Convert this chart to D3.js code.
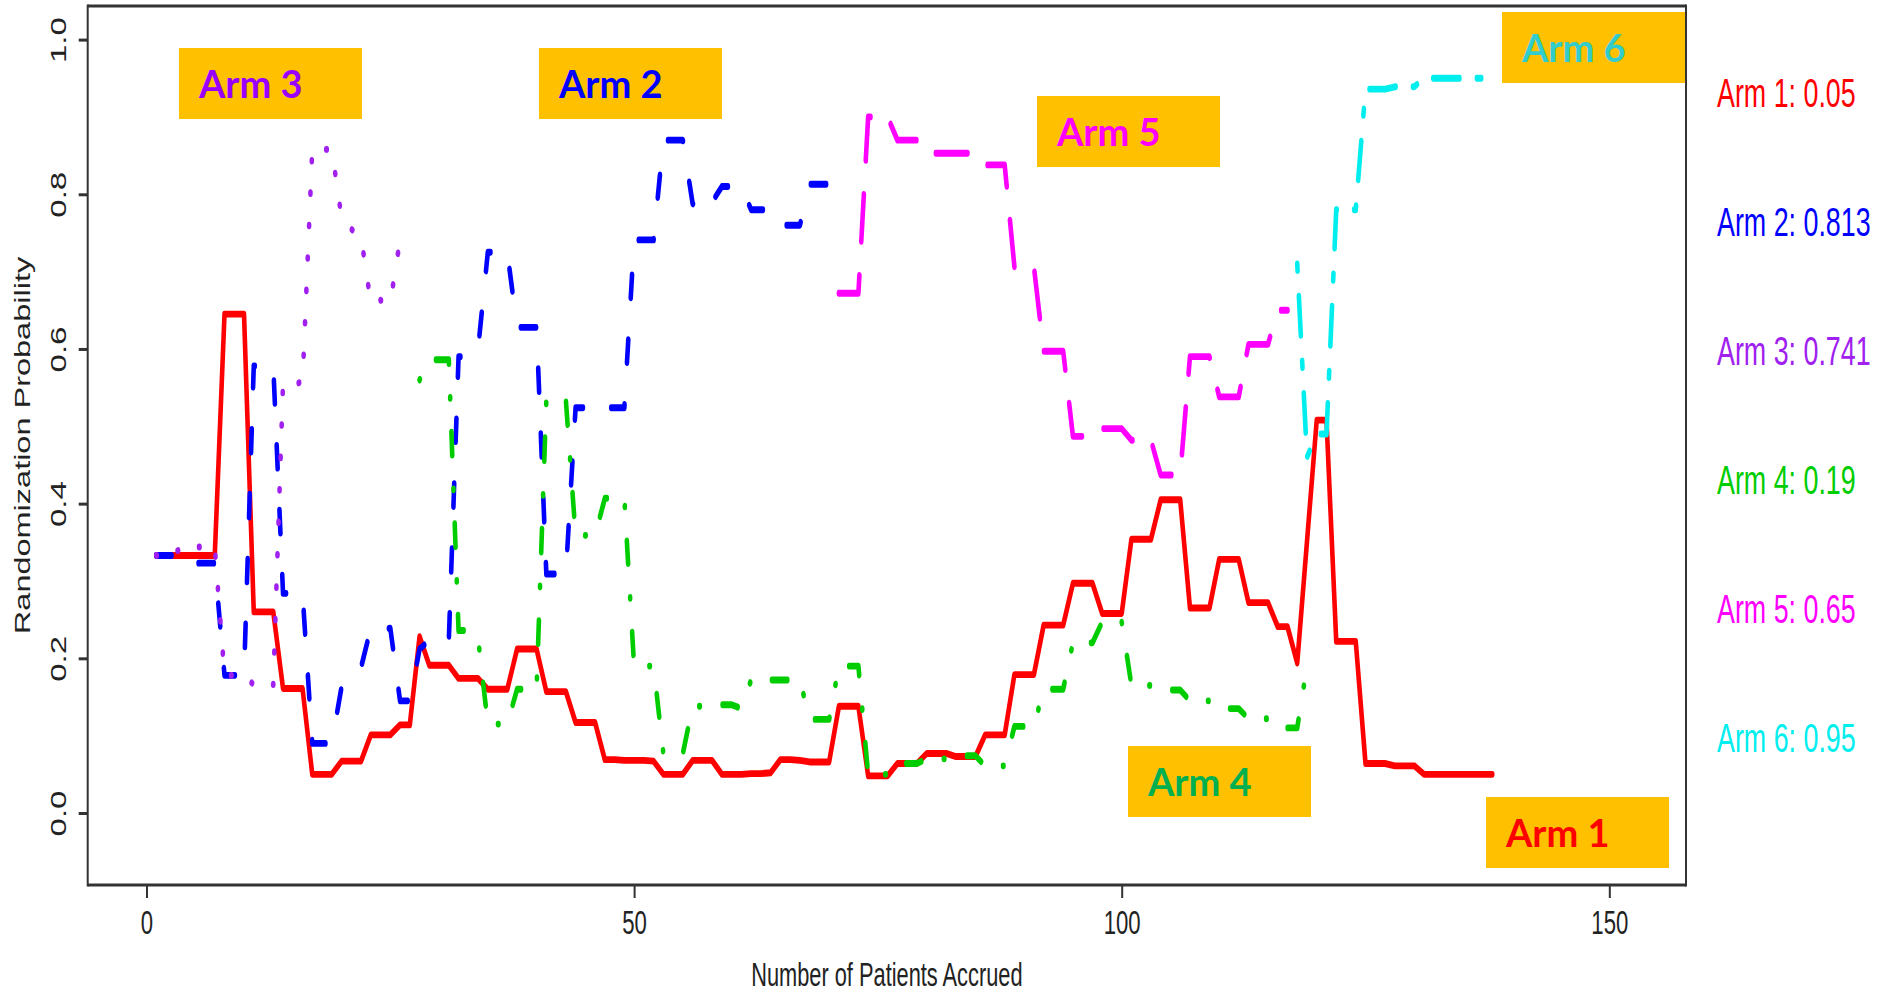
<!DOCTYPE html>
<html>
<head>
<meta charset="utf-8">
<script src="https://cdn.jsdelivr.net/npm/d3@7"></script>
<style>
  body { margin: 0; background: #ffffff; }
  svg { display: block; }
</style>
</head>
<body>
<svg id="chart" width="1883" height="996"></svg>
<script>
// Randomization probability of each arm, one value per accrued patient,
// starting at the patient number given by armNStart.
const arm1Start = 1;
const arm1 = [
  0.333, 0.333, 0.333, 0.333, 0.333, 0.333, 0.333,
  0.645, 0.645, 0.645,
  0.26, 0.26, 0.26,
  0.161, 0.161, 0.161,
  0.05, 0.05, 0.05,
  0.067, 0.067, 0.067,
  0.101, 0.101, 0.101,
  0.114, 0.114,
  0.228,
  0.191, 0.191, 0.191,
  0.174, 0.174, 0.174,
  0.16, 0.16, 0.16,
  0.212, 0.212, 0.212,
  0.157, 0.157, 0.157,
  0.117, 0.117, 0.117,
  0.069, 0.069, 0.068, 0.068, 0.068, 0.067,
  0.05, 0.05, 0.05,
  0.068, 0.068, 0.068,
  0.05, 0.05, 0.05, 0.051, 0.051, 0.052,
  0.069, 0.069, 0.068, 0.066, 0.066, 0.066,
  0.138, 0.138, 0.138,
  0.048, 0.048, 0.048,
  0.064, 0.064, 0.064,
  0.077, 0.077, 0.077,
  0.073, 0.073, 0.073,
  0.101, 0.101, 0.101,
  0.179, 0.179, 0.179,
  0.243, 0.243, 0.243,
  0.297, 0.297, 0.297,
  0.258, 0.258, 0.258,
  0.354, 0.354, 0.354,
  0.405, 0.405, 0.405,
  0.265, 0.265, 0.265,
  0.328, 0.328, 0.328,
  0.272, 0.272, 0.272,
  0.241, 0.241,
  0.194,
  0.351,
  0.508, 0.508,
  0.222, 0.222, 0.222,
  0.064, 0.064, 0.064,
  0.061, 0.061, 0.061,
  0.05, 0.05, 0.05, 0.05, 0.05, 0.05, 0.05, 0.05
];

const arm2Start = 1;
const arm2 = [
  0.333, 0.333, 0.333,
  0.323, 0.323, 0.323, 0.323,
  0.178, 0.178, 0.178,
  0.578, 0.578, 0.578,
  0.284, 0.284, 0.284,
  0.09, 0.09, 0.09,
  0.163, 0.178, 0.188,
  0.239, 0.236, 0.239,
  0.145, 0.145,
  0.212,
  0.223, 0.223, 0.223,
  0.59, 0.59,
  0.60,
  0.725, 0.725, 0.725,
  0.628, 0.628, 0.628,
  0.309, 0.309, 0.309,
  0.524, 0.524, 0.524, 0.524, 0.524, 0.524,
  0.741, 0.741, 0.741,
  0.87, 0.87, 0.87,
  0.788, 0.776, 0.79,
  0.81, 0.81, 0.81,
  0.78, 0.78, 0.78,
  0.76, 0.76, 0.76,
  0.813, 0.813, 0.813
];

const arm3Start = 1;
const arm3 = [
  0.333, 0.333,
  0.338,
  0.344, 0.344, 0.344, 0.344,
  0.178, 0.178,
  0.177,
  0.166, 0.166, 0.166,
  0.555, 0.555,
  0.557,
  0.858, 0.858, 0.858,
  0.77, 0.755, 0.745,
  0.66, 0.663, 0.66,
  0.741, 0.741
];

const arm4Start = 28;
const arm4 = [
  0.56,
  0.586, 0.586, 0.586,
  0.236, 0.236,
  0.226,
  0.115, 0.115, 0.115,
  0.16, 0.16, 0.16,
  0.534, 0.534, 0.534,
  0.359, 0.359, 0.359,
  0.407, 0.407, 0.407,
  0.19, 0.19, 0.19,
  0.077, 0.077, 0.077,
  0.138, 0.138, 0.138,
  0.14, 0.14, 0.135,
  0.172, 0.172, 0.172, 0.172, 0.172, 0.172,
  0.121, 0.121, 0.121,
  0.19, 0.19, 0.19,
  0.05, 0.05, 0.05,
  0.064, 0.064, 0.064,
  0.07, 0.07, 0.07,
  0.074, 0.074, 0.074,
  0.061, 0.061, 0.061,
  0.112, 0.112, 0.112,
  0.16, 0.16, 0.16,
  0.22, 0.22, 0.22,
  0.247, 0.247, 0.247,
  0.165, 0.165, 0.165,
  0.159, 0.159, 0.159,
  0.145, 0.145, 0.145,
  0.135, 0.135, 0.135,
  0.122, 0.122, 0.122,
  0.11, 0.11, 0.11,
  0.19
];

const arm5Start = 71;
const arm5 = [
  0.672, 0.672, 0.672,
  0.90, 0.90, 0.90,
  0.87, 0.87, 0.87,
  0.853, 0.853, 0.853, 0.853, 0.853, 0.853,
  0.838, 0.838, 0.838,
  0.706, 0.706, 0.706,
  0.597, 0.597, 0.597,
  0.487, 0.487, 0.487,
  0.497, 0.497, 0.497,
  0.482, 0.482, 0.482,
  0.437, 0.437, 0.437,
  0.59, 0.59, 0.59,
  0.538, 0.538, 0.538,
  0.606, 0.606, 0.606,
  0.65, 0.65
];

const arm6Start = 118;
const arm6 = [
  0.71,
  0.46,
  0.49, 0.49,
  0.78, 0.78, 0.78,
  0.936, 0.936, 0.936,
  0.939, 0.939, 0.939,
  0.95, 0.95, 0.95, 0.95, 0.95, 0.95, 0.95, 0.95
];

const xTicks = [0, 50, 100, 150];
const yTicks = [0, 0.2, 0.4, 0.6, 0.8, 1.0];
const armNames = ["Arm 1", "Arm 2", "Arm 3", "Arm 4", "Arm 5", "Arm 6"];

// ---- layout and styling ----
const W = 1883, H = 996;
const frame = { left: 87.7, right: 1686, top: 6, bottom: 885 };
const K = 1.49;          // the plotting device is stretched vertically
const SX = 1 / K;        // horizontal squeeze applied to upright text
const LW = 4.6;
const axisFont = "'Liberation Sans', Arial, Helvetica, sans-serif";

const armStyles = [
  { color: "#FF0000", dash: null },                      // solid
  { color: "#0000FF", dash: "15.3,28.3" },               // dashed
  { color: "#A020F0", dash: "0.5,21.3" },                // dotted
  { color: "#00CD00", dash: "0.5,22.85,15.3,22.85" },    // dot-dash
  { color: "#FF00FF", dash: "31.6,22.9" },               // long dash
  { color: "#00EEEE", dash: "4.4,17.4,26.2,17.4" }       // two-dash
];

const calloutStyle = [
  { x: 1486, y: 797, color: "#FF0000" },
  { x: 539,  y: 48,  color: "#0000FF" },
  { x: 179,  y: 48,  color: "#9900FF" },
  { x: 1128, y: 746, color: "#00B050" },
  { x: 1037, y: 96,  color: "#FF00FF" },
  { x: 1502, y: 12,  color: "#33CCCC" }
];

const series = [
  [arm1Start, arm1], [arm2Start, arm2], [arm3Start, arm3],
  [arm4Start, arm4], [arm5Start, arm5], [arm6Start, arm6]
].map(([start, values], i) => ({
  name: armNames[i],
  points: values.map((p, j) => ({ n: start + j, p })),
  last: values[values.length - 1],
  ...armStyles[i]
}));

const x = d3.scaleLinear().domain([0, 150]).range([146.5, 1609.3]);
const y = d3.scaleLinear().domain([0, 1]).range([813, 39.6]);
const yLine = y.copy().range(y.range().map(v => v / K));

const svg = d3.select("#chart");
svg.append("rect").attr("width", W).attr("height", H).attr("fill", "#ffffff");

// probability traces, drawn in the vertically stretched device space
const line = d3.line().x(d => x(d.n)).y(d => yLine(d.p));
const gLines = svg.append("g").attr("transform", `scale(1,${K})`);
gLines.selectAll("path.arm")
  .data(series)
  .join("path")
  .attr("class", "arm")
  .attr("d", d => line(d.points))
  .attr("fill", "none")
  .attr("stroke", d => d.color)
  .attr("stroke-width", LW)
  .attr("stroke-linecap", "round")
  .attr("stroke-linejoin", "round")
  .attr("stroke-dasharray", d => d.dash);

// axes
const xAxis = svg.append("g")
  .attr("transform", `translate(0,${frame.bottom})`)
  .call(d3.axisBottom(x).tickValues(xTicks).tickSize(13).tickSizeOuter(0).tickFormat(d3.format("d")));
xAxis.select(".domain").remove();
xAxis.selectAll(".tick line").attr("stroke", "#333").attr("stroke-width", 2);
xAxis.selectAll(".tick text")
  .attr("y", null).attr("dy", null)
  .attr("text-anchor", "middle")
  .attr("transform", `translate(0,49) scale(${SX},1)`)
  .attr("font-size", 33)
  .attr("font-family", axisFont)
  .attr("fill", "#222");

const yAxis = svg.append("g")
  .attr("transform", `translate(${frame.left},0)`)
  .call(d3.axisLeft(y).tickValues(yTicks).tickSize(9).tickSizeOuter(0).tickFormat(d3.format(".1f")));
yAxis.select(".domain").remove();
yAxis.selectAll(".tick line").attr("stroke", "#333").attr("stroke-width", 3);
yAxis.selectAll(".tick text")
  .attr("x", null).attr("dy", null)
  .attr("text-anchor", "middle")
  .attr("transform", `translate(-21.7,0) rotate(-90) scale(1,${SX})`)
  .attr("font-size", 33)
  .attr("font-family", axisFont)
  .attr("fill", "#222");

// axis titles
svg.append("text")
  .attr("transform", `translate(${(frame.left + frame.right) / 2},986) scale(${SX},1)`)
  .attr("text-anchor", "middle")
  .attr("font-size", 32.5)
  .attr("font-family", axisFont)
  .attr("fill", "#222")
  .text("Number of Patients Accrued");

svg.append("text")
  .attr("transform", `translate(30,${(frame.top + frame.bottom) / 2}) rotate(-90) scale(1,${SX})`)
  .attr("text-anchor", "middle")
  .attr("font-size", 32.5)
  .attr("font-family", axisFont)
  .attr("fill", "#222")
  .text("Randomization Probability");

// final probability of each arm, in the right margin
svg.append("g").selectAll("text")
  .data(series)
  .join("text")
  .attr("transform", (d, i) => `translate(1717,${107 + 129 * i}) scale(${SX},1)`)
  .attr("font-size", 40)
  .attr("font-family", axisFont)
  .attr("fill", d => d.color)
  .text(d => `${d.name}: ${d.last}`);

// arm call-outs
const callouts = svg.append("g").selectAll("g")
  .data(series.map((d, i) => ({ name: d.name, ...calloutStyle[i] })))
  .join("g")
  .attr("transform", d => `translate(${d.x},${d.y})`);
callouts.append("rect")
  .attr("width", 183).attr("height", 71)
  .attr("fill", "#FFC000");
callouts.append("text")
  .attr("x", 20).attr("y", 50)
  .attr("font-family", "Lato, 'Open Sans', sans-serif")
  .attr("font-weight", 700)
  .attr("font-size", 38)
  .attr("fill", d => d.color)
  .text(d => d.name);

// plot frame
const gFrame = svg.append("g").attr("stroke", "#333").attr("fill", "none");
gFrame.append("line").attr("x1", frame.left).attr("x2", frame.right)
  .attr("y1", frame.top).attr("y2", frame.top).attr("stroke-width", 3);
gFrame.append("line").attr("x1", frame.left).attr("x2", frame.right)
  .attr("y1", frame.bottom).attr("y2", frame.bottom).attr("stroke-width", 3);
gFrame.append("line").attr("x1", frame.left).attr("x2", frame.left)
  .attr("y1", frame.top - 1.5).attr("y2", frame.bottom + 1.5).attr("stroke-width", 2);
gFrame.append("line").attr("x1", frame.right).attr("x2", frame.right)
  .attr("y1", frame.top - 1.5).attr("y2", frame.bottom + 1.5).attr("stroke-width", 2);
</script>
</body>
</html>
